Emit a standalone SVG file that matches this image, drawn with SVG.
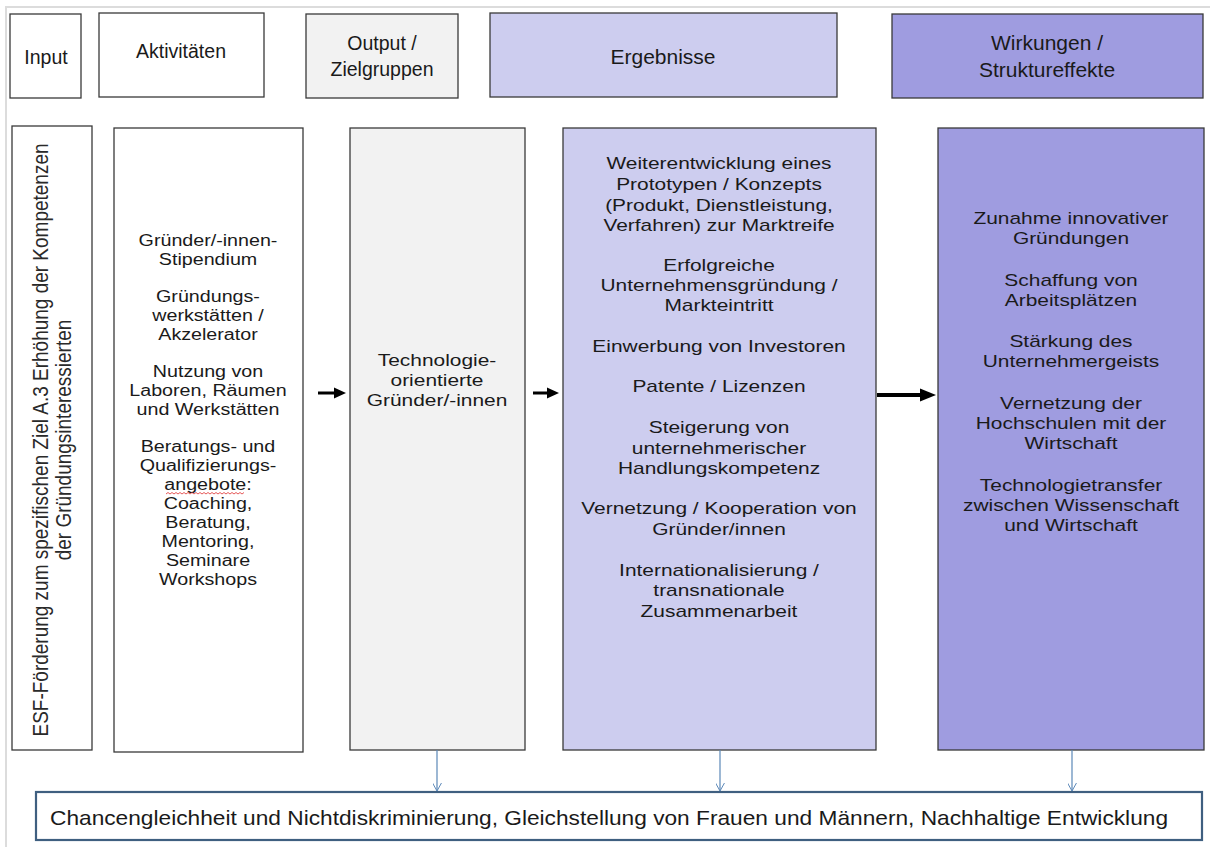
<svg xmlns="http://www.w3.org/2000/svg" width="1210" height="847" viewBox="0 0 1210 847">
<style>
text{font-family:"Liberation Sans",Arial,sans-serif;fill:#1a1a1a;text-anchor:middle}
.h{font-size:19.5px}
.H{font-size:21px}
.b{font-size:17px}
.s{font-size:16px}
.box{stroke:#3a3a3a;stroke-width:1.3}
.blue{stroke:#5b88b8;stroke-width:1.2;fill:none}
</style>
<defs>
<marker id="ba" viewBox="0 0 10 10" refX="9" refY="5" markerWidth="9" markerHeight="9" markerUnits="userSpaceOnUse" orient="auto">
<path d="M0,0 L9,5 L0,10" fill="none" stroke="#5b88b8" stroke-width="1.1"/>
</marker>
</defs>
<rect width="1210" height="847" fill="#fff"/>
<path d="M6,847 V7 H1210" fill="none" stroke="#dcdcdc" stroke-width="2"/>

<g id="h-input"><rect class="box" x="10" y="14" width="71" height="84" fill="#fff"/><text class="h" x="46" y="64">Input</text></g>
<g id="h-akt"><rect class="box" x="99" y="13" width="165" height="84" fill="#fff"/><text class="h" x="181" y="58">Aktivitäten</text></g>
<g id="h-out"><rect class="box" x="306" y="14" width="152" height="84" fill="#f2f2f2"/><text class="h" x="382" y="50">Output /</text><text class="h" x="382" y="76">Zielgruppen</text></g>
<g id="h-erg"><rect class="box" x="490" y="13" width="347" height="84" fill="#cdcdef"/><text class="H" x="663" y="64">Ergebnisse</text></g>
<g id="h-wirk"><rect class="box" x="892" y="14" width="311" height="84" fill="#9f9ce0"/><text class="H" x="1047" y="50">Wirkungen /</text><text class="H" x="1047" y="77">Struktureffekte</text></g>

<g id="n-input"><rect class="box" x="12" y="126" width="80" height="624" fill="#fff"/>
<text style="font-size:19px;fill:#2a2a2a" transform="translate(52,440) scale(1.2,1) rotate(-90)"><tspan x="0" y="-3">ESF-Förderung zum spezifischen Ziel A.3 Erhöhung der Kompetenzen</tspan><tspan x="0" y="16">der Gründungsinteressierten</tspan></text></g>

<g id="n-akt"><rect class="box" x="114" y="128" width="189" height="624" fill="#fff"/>
<text class="s" transform="translate(208,0) scale(1.23,1)"><tspan x="0" y="246">Gründer/-innen-</tspan><tspan x="0" y="265">Stipendium</tspan><tspan x="0" y="302">Gründungs-</tspan><tspan x="0" y="321">werkstätten /</tspan><tspan x="0" y="340">Akzelerator</tspan><tspan x="0" y="377">Nutzung von</tspan><tspan x="0" y="396">Laboren, Räumen</tspan><tspan x="0" y="415">und Werkstätten</tspan><tspan x="0" y="452">Beratungs-  und</tspan><tspan x="0" y="471">Qualifizierungs-</tspan><tspan x="0" y="490">angebote:</tspan><tspan x="0" y="509">Coaching,</tspan><tspan x="0" y="528">Beratung,</tspan><tspan x="0" y="547">Mentoring,</tspan><tspan x="0" y="566">Seminare</tspan><tspan x="0" y="585">Workshops</tspan></text>
<path d="M166,494 l2,-1.5 l2,1.5 l2,-1.5 l2,1.5 l2,-1.5 l2,1.5 l2,-1.5 l2,1.5 l2,-1.5 l2,1.5 l2,-1.5 l2,1.5 l2,-1.5 l2,1.5 l2,-1.5 l2,1.5 l2,-1.5 l2,1.5 l2,-1.5 l2,1.5 l2,-1.5 l2,1.5 l2,-1.5 l2,1.5 l2,-1.5 l2,1.5 l2,-1.5 l2,1.5 l2,-1.5 l2,1.5 l2,-1.5 l2,1.5 l2,-1.5 l2,1.5 l2,-1.5 l2,1.5 l2,-1.5 l2,1.5 l2,-1.5" fill="none" stroke="#e03030" stroke-width="0.8"/></g>

<g id="n-out"><rect class="box" x="350" y="128" width="175" height="622" fill="#f2f2f2"/>
<text class="b" transform="translate(437,0) scale(1.23,1)"><tspan x="0" y="366">Technologie-</tspan><tspan x="0" y="386">orientierte</tspan><tspan x="0" y="406">Gründer/-innen</tspan></text></g>

<g id="n-erg"><rect class="box" x="563" y="128" width="313" height="622" fill="#cdcdef"/>
<text class="b" transform="translate(719,0) scale(1.23,1)"><tspan x="0" y="169">Weiterentwicklung eines</tspan><tspan x="0" y="190">Prototypen / Konzepts</tspan><tspan x="0" y="211">(Produkt, Dienstleistung,</tspan><tspan x="0" y="231">Verfahren) zur Marktreife</tspan><tspan x="0" y="271">Erfolgreiche</tspan><tspan x="0" y="291">Unternehmensgründung /</tspan><tspan x="0" y="311">Markteintritt</tspan><tspan x="0" y="352">Einwerbung von Investoren</tspan><tspan x="0" y="392">Patente / Lizenzen</tspan><tspan x="0" y="433">Steigerung von</tspan><tspan x="0" y="454">unternehmerischer</tspan><tspan x="0" y="474">Handlungskompetenz</tspan><tspan x="0" y="514">Vernetzung / Kooperation von</tspan><tspan x="0" y="535">Gründer/innen</tspan><tspan x="0" y="576">Internationalisierung /</tspan><tspan x="0" y="596">transnationale</tspan><tspan x="0" y="617">Zusammenarbeit</tspan></text></g>

<g id="n-wirk"><rect class="box" x="938" y="128" width="266" height="622" fill="#9f9ce0"/>
<text class="b" transform="translate(1071,0) scale(1.23,1)"><tspan x="0" y="224">Zunahme innovativer</tspan><tspan x="0" y="244">Gründungen</tspan><tspan x="0" y="286">Schaffung von</tspan><tspan x="0" y="306">Arbeitsplätzen</tspan><tspan x="0" y="347">Stärkung des</tspan><tspan x="0" y="367">Unternehmergeists</tspan><tspan x="0" y="409">Vernetzung der</tspan><tspan x="0" y="429">Hochschulen mit der</tspan><tspan x="0" y="449">Wirtschaft</tspan><tspan x="0" y="491">Technologietransfer</tspan><tspan x="0" y="511">zwischen Wissenschaft</tspan><tspan x="0" y="531">und Wirtschaft</tspan></text></g>

<g id="n-bottom"><rect x="36" y="792" width="1166" height="48" fill="#fff" stroke="#3f5f80" stroke-width="2.2"/>
<text style="font-size:21px" x="609" y="825" textLength="1118" lengthAdjust="spacingAndGlyphs">Chancengleichheit und Nichtdiskriminierung, Gleichstellung von Frauen und Männern, Nachhaltige Entwicklung</text></g>

<g id="connectors">
<path d="M318,393 H336" stroke="#000" stroke-width="3"/><path d="M334,387.5 L346,393 L334,398.5 Z" fill="#000"/>
<path d="M533,393 H549" stroke="#000" stroke-width="3"/><path d="M547,387.5 L559,393 L547,398.5 Z" fill="#000"/>
<path d="M877,395 H922" stroke="#000" stroke-width="4"/><path d="M920,388.5 L936,395 L920,401.5 Z" fill="#000"/>
<line class="blue" x1="437" y1="750" x2="437" y2="791" marker-end="url(#ba)"/>
<line class="blue" x1="720" y1="750" x2="720" y2="791" marker-end="url(#ba)"/>
<line class="blue" x1="1072" y1="750" x2="1072" y2="791" marker-end="url(#ba)"/>
</g>
</svg>
